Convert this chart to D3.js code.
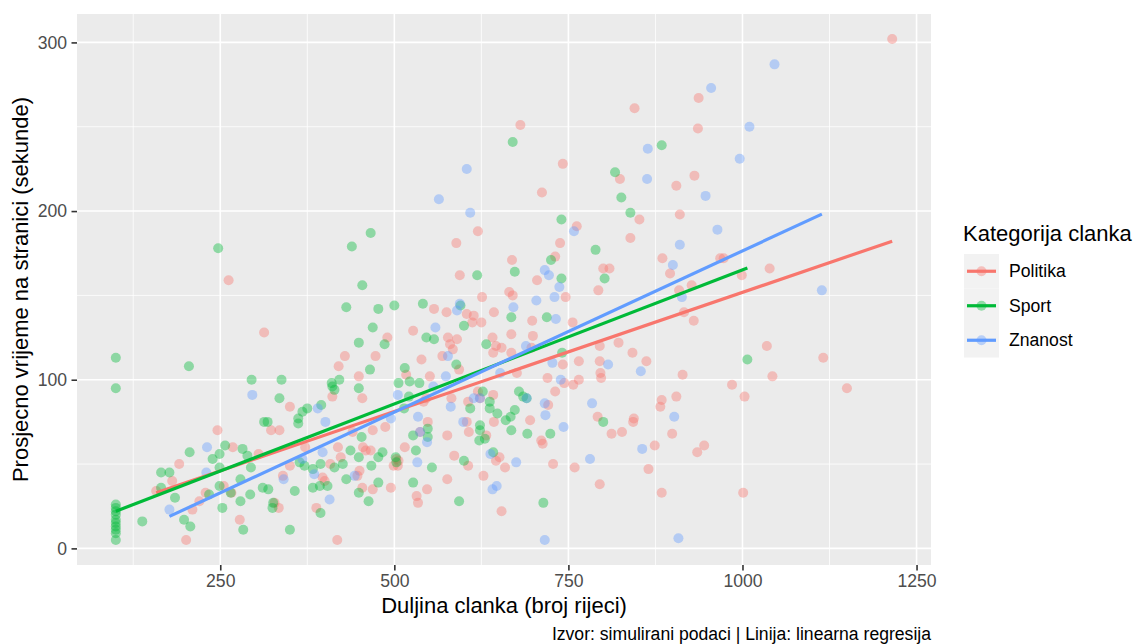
<!DOCTYPE html>
<html>
<head>
<meta charset="utf-8">
<script src="https://cdn.jsdelivr.net/npm/d3@7"></script>
<style>
  body { margin: 0; background: #fff; }
  svg { display: block; font-family: "Liberation Sans", Arial, sans-serif; }
</style>
</head>
<body>
<div id="chart"></div>
<script>
const width = 1134;
const height = 644;
const margin = { top: 14, right: 203, bottom: 79, left: 77 };

// categories and colours (ggplot default hues)
const categories = ["Politika", "Sport", "Znanost"];
const colors = ["#F8766D", "#00BA38", "#619CFF"];

// [duljina clanka, vrijeme na stranici]
const politika = [
  [158,34],[181,40],[191,50],[201,5],[210,23],[220,28],[229,33],[246,70],[255,37],[266,33],
  [268,60],[278,17],[305,56],[323,70],[335,70],[328,27],[334,24],[340,43],[350,49],[350,84],
  [372,60],[388,24],[397,42],[400,40],[408,50],[419,60],[423,54],[418,5],[411,90],[454,89],
  [440,69],[450,46],[447,43],[455,60],[459,58],[466,58],[469,70],[454,36],[469,35],[487,72],
  [495,36],[503,53],[505,49],[515,60],[506,52],[499,49],
  [527,129],[557,142],[575,140],[604,139],[614,138],[612,134],[625,134],[643,140],[577,125],[590,124],
  [580,121],[584,118],[569,114],[539,112],[517,103],[551,102],[593,106],[641,125],[646,120],[654,119],
  [642,116],[668,127],[668,116],[698,135],[699,126],[697,119],[676,104],[620,93],[623,89],[642,91],
  [582,89],[606,87],[546,89],[542,87],[537,69],[548,75],[576,67],[604,75],[607,69],[632,67],
  [643,75],[651,54],[646,52],[659,48],[586,55],[606,49],[628,43],[576,41],[547,35],[532,31],
  [534,27],[654,22],[695,76],[711,64],[713,62],[721,85],[720,101],[731,93],[742,109],[744,98],
  [757,97],[765,100],[765,111],[756,134],[728,50],[759,48],[795,38],[795,111],[796,104],[797,101],
  [795,120],[792,78],[812,68],[827,69],[822,122],[842,116],[843,75],[844,77],[862,111],[865,47],
  [874,61],[884,88],[882,84],[884,33],[899,68],[905,90],[914,103],[916,140],[930,135],[935,57],
  [945,61],[985,97],[1003,90],[1001,33],[1035,120],[1043,102],
  [681,251],[845,261],[937,267],[936,249],[742,228],[712,211],[620,188],[589,181],[594,162],[626,149],
  [669,171],[665,152],[670,150],[746,149],[738,181],[731,173],[705,159],[762,191],[839,184],[852,195],
  [824,219],[905,215],[931,221],[910,198],[885,172],[896,163],[909,153],[927,156],[968,172],[973,172],
  [999,162],[1039,166],[800,166],[809,166],[793,153],
  [1116,113],[1150,95],[1215,302],
  [262,159],[313,128],[420,108],[429,114],[473,114],[449,102],[490,125]
];

const sport = [
  [100,5],[100,9],[100,11],[100,13],[100,15],[100,17],[100,20],[100,22],[100,24],[100,26],
  [100,95],[100,113],[205,108],
  [138,16],[165,45],[177,45],[165,36],[185,30],[206,57],[198,17],[207,13],[239,53],[249,56],
  [257,61],[249,48],[249,37],[234,32],[253,24],[265,33],[279,41],[282,59],[289,55],[294,48],
  [293,32],[283,11],[279,28],[311,36],[313,75],[318,75],[325,24],[326,27],[319,35],[335,89],
  [350,11],[357,34],[362,77],[362,74],[368,81],[375,83],[395,85],[411,96],[414,94],[364,51],
  [371,49],[383,47],[394,50],[393,37],[383,36],[404,37],[394,21],[414,48],[426,50],[437,58],
  [449,54],[453,66],[449,95],[431,41],[449,33],[463,28],[467,49],[477,39],[477,54],[483,57],
  [502,54],[506,98],[503,51],
  [541,145],[595,144],[668,137],[719,137],[600,132],[546,125],[557,124],[632,121],[589,109],[741,116],
  [515,107],[522,99],[536,98],[521,90],[514,83],[627,93],[679,93],[685,90],[690,89],[637,87],
  [609,83],[637,83],[673,82],[648,80],[667,78],[660,76],[623,73],[623,70],[548,71],[548,66],
  [527,67],[668,70],[691,68],[724,68],[622,64],[630,65],[800,75],[531,58],[642,57],[600,52],
  [554,48],[527,39],[593,28],[714,27],[1007,112],
  [670,241],[884,239],[817,223],[826,208],[839,199],[740,195],[789,177],[725,171],[673,164],[740,160],
  [802,160],[619,162],
  [247,178],[295,100],[338,100],[410,98],[439,179],[466,187],[454,156],[431,143],[477,142],[500,144],
  [469,131],[449,122],[486,121],[465,106],[421,100]
];

const znanost = [
  [177,23],[231,60],[230,45],[296,91],[341,41],[385,44],[390,83],[401,75],[397,57],[407,29],
  [443,43],[505,91],[495,77],[368,53],
  [559,131],[577,114],[574,102],[556,96],[581,84],[614,89],[623,89],[652,104],[689,120],[727,110],
  [739,100],[716,86],[717,79],[743,72],[784,86],[807,109],[854,105],[902,78],[856,59],[781,53],
  [675,51],[638,56],[599,75],[534,78],[547,63],[533,51],[537,69],[641,35],[647,37],[716,5],
  [908,6],[690,89],[732,136],[704,147],[671,143],[594,145],[590,141],
  [1046,287],[955,273],[1010,250],[996,231],[864,237],[863,219],[947,209],[604,225],[564,207],[609,199],
  [964,189],[910,180],[758,188],[900,168],[913,149],[1114,153],[716,165],[722,162],[737,155],[730,149]
];

// linear fits: y = intercept + slope * x
const fitIntercept = [10.7, 6.1, -14.9];
const fitSlope = [0.1411, 0.1591, 0.1913];

const xTicks = [250, 500, 750, 1000, 1250];
const xMinor = [125, 375, 625, 875, 1125];
const yTicks = [0, 100, 200, 300];
const yMinor = [50, 150, 250];

const series = [politika, sport, znanost];

const allPts = series.flat();
const xExt = d3.extent(allPts, d => d[0]);
const yExt = d3.extent(allPts, d => d[1]);
const xPad = (xExt[1] - xExt[0]) * 0.05;
const yPad = (yExt[1] - yExt[0]) * 0.05;

const x = d3.scaleLinear()
  .domain([xExt[0] - xPad, xExt[1] + xPad])
  .range([margin.left, width - margin.right]);
const y = d3.scaleLinear()
  .domain([yExt[0] - yPad, yExt[1] + yPad])
  .range([height - margin.bottom, margin.top]);

const svg = d3.select("#chart").append("svg")
  .attr("width", width)
  .attr("height", height);

// panel
svg.append("rect")
  .attr("x", margin.left).attr("y", margin.top)
  .attr("width", width - margin.left - margin.right)
  .attr("height", height - margin.top - margin.bottom)
  .attr("fill", "#EBEBEB");

const grid = svg.append("g").attr("stroke", "#fff");
grid.selectAll(".xmin").data(xMinor).join("line")
  .attr("x1", d => x(d)).attr("x2", d => x(d))
  .attr("y1", margin.top).attr("y2", height - margin.bottom)
  .attr("stroke-width", 0.8);
grid.selectAll(".ymin").data(yMinor).join("line")
  .attr("y1", d => y(d)).attr("y2", d => y(d))
  .attr("x1", margin.left).attr("x2", width - margin.right)
  .attr("stroke-width", 0.8);
grid.selectAll(".xmaj").data(xTicks).join("line")
  .attr("x1", d => x(d)).attr("x2", d => x(d))
  .attr("y1", margin.top).attr("y2", height - margin.bottom)
  .attr("stroke-width", 1.6);
grid.selectAll(".ymaj").data(yTicks).join("line")
  .attr("y1", d => y(d)).attr("y2", d => y(d))
  .attr("x1", margin.left).attr("x2", width - margin.right)
  .attr("stroke-width", 1.6);

// points
series.forEach((pts, i) => {
  svg.append("g").selectAll("circle")
    .data(pts)
    .join("circle")
    .attr("cx", d => x(d[0]))
    .attr("cy", d => y(d[1]))
    .attr("r", 5)
    .attr("fill", colors[i])
    .attr("fill-opacity", 0.4);
});

// regression lines over each category's x range
series.forEach((pts, i) => {
  const [x0, x1] = d3.extent(pts, d => d[0]);
  const f = v => fitIntercept[i] + fitSlope[i] * v;
  svg.append("line")
    .attr("x1", x(x0)).attr("y1", y(f(x0)))
    .attr("x2", x(x1)).attr("y2", y(f(x1)))
    .attr("stroke", colors[i])
    .attr("stroke-width", 3.2);
});

// axes
const xAxis = svg.append("g")
  .attr("transform", `translate(0,${height - margin.bottom})`)
  .call(d3.axisBottom(x).tickValues(xTicks).tickFormat(d3.format("d")).tickSize(5.5).tickPadding(4));
const yAxis = svg.append("g")
  .attr("transform", `translate(${margin.left},0)`)
  .call(d3.axisLeft(y).tickValues(yTicks).tickFormat(d3.format("d")).tickSize(5.5).tickPadding(4.4));
[xAxis, yAxis].forEach(g => {
  g.select(".domain").remove();
  g.selectAll(".tick line").attr("stroke", "#333").attr("stroke-width", 1.6);
  g.selectAll(".tick text")
    .attr("fill", "#4D4D4D")
    .style("font-size", "17.6px")
    .style("font-family", "'Liberation Sans', Arial, sans-serif");
});

// plot title sits above the visible area in the reference
svg.append("text")
  .attr("x", (margin.left + width - margin.right) / 2)
  .attr("y", -6)
  .attr("text-anchor", "middle")
  .style("font-size", "26.4px")
  .text("Odnos duljine clanka i vremena na stranici");

svg.append("text")
  .attr("x", (margin.left + width - margin.right) / 2)
  .attr("y", 613)
  .attr("text-anchor", "middle")
  .style("font-size", "22px")
  .text("Duljina clanka (broj rijeci)");

svg.append("text")
  .attr("transform", `translate(28,${(margin.top + height - margin.bottom) / 2}) rotate(-90)`)
  .attr("text-anchor", "middle")
  .style("font-size", "22px")
  .text("Prosjecno vrijeme na stranici (sekunde)");

svg.append("text")
  .attr("x", width - margin.right)
  .attr("y", 640)
  .attr("text-anchor", "end")
  .style("font-size", "17.6px")
  .text("Izvor: simulirani podaci | Linija: linearna regresija");

// legend
const legend = svg.append("g").attr("transform", "translate(963,0)");
legend.append("text")
  .attr("x", 0).attr("y", 241)
  .style("font-size", "22px")
  .text("Kategorija clanka");

const keyH = 34.5;
categories.forEach((c, i) => {
  const ky = 254 + i * keyH;
  const k = legend.append("g").attr("transform", `translate(1,${ky})`);
  k.append("rect")
    .attr("width", 35).attr("height", keyH)
    .attr("fill", "#F2F2F2");
  k.append("line")
    .attr("x1", 3).attr("x2", 32)
    .attr("y1", keyH / 2).attr("y2", keyH / 2)
    .attr("stroke", colors[i]).attr("stroke-width", 3.2);
  k.append("circle")
    .attr("cx", 17.5).attr("cy", keyH / 2).attr("r", 5)
    .attr("fill", colors[i]).attr("fill-opacity", 0.4);
  k.append("text")
    .attr("x", 45).attr("y", keyH / 2)
    .attr("dy", "0.35em")
    .style("font-size", "17.6px")
    .text(c);
});
</script>
</body>
</html>
